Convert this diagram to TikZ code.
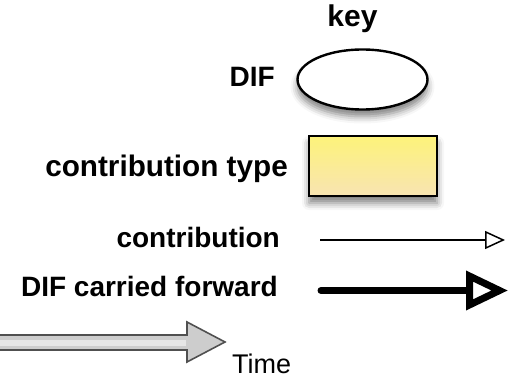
\documentclass[tikz,border=0pt]{standalone}
\usepackage{fontspec}
\setmainfont{Liberation Sans}
\usetikzlibrary{arrows.meta,shapes.geometric,shadows.blur}
\definecolor{typetop}{RGB}{253,243,122}
\definecolor{typebot}{RGB}{248,228,178}
\definecolor{timefill}{RGB}{205,205,205}
\definecolor{timeedge}{RGB}{80,80,80}
\begin{document}
\begin{tikzpicture}[x=1pt,y=-1pt,
  lbl/.style={inner sep=0pt,anchor=base east,font=\fontsize{28}{32}\selectfont\bfseries},
  softshadow/.style={blur shadow={shadow xshift=0pt,shadow yshift=-7pt,shadow blur radius=7pt,shadow opacity=50}},
  difnode/.style={ellipse,draw=black,line width=2.4pt,fill=white,minimum width=130pt,minimum height=60pt,inner sep=0pt,softshadow},
  typenode/.style={rectangle,draw=black,line width=2.4pt,top color=typetop,bottom color=typebot,minimum width=128pt,minimum height=60pt,inner sep=0pt,softshadow},
  contrib/.style={line width=1.5pt,-{Triangle[open,length=20pt,width=18pt]}},
  carried/.style={line width=7pt,line cap=round,-{Triangle[open,length=42pt,width=38pt]}}]
\useasboundingbox (0,0) rectangle (514,379);

% legend title
\node[inner sep=0pt,anchor=base,font=\fontsize{30}{34}\selectfont\bfseries] (key) at (352.5,27) {key};

% DIF symbol
\node[lbl] (difl) at (275,87) {DIF};
\node[difnode] (dif) at (362.5,79.5) {};

% contribution type symbol
\node[lbl,font=\fontsize{29.7}{34}\selectfont\bfseries] (ctl) at (288,177) {contribution type};
\node[typenode] (ct) at (373,166) {};

% contribution connector
\node[lbl] (cl) at (280,248) {contribution};
\coordinate (c1) at (320,240);
\coordinate (c2) at (505,240);
\draw[contrib] (c1) -- (c2);

% DIF carried forward connector
\node[lbl] (dl) at (278,297) {DIF carried forward};
\coordinate (d1) at (321,290.5);
\coordinate (d2) at (508,290.5);
\draw[carried] (d1) -- (d2);

% time axis
\coordinate (t1) at (225,342);
\fill[timefill,draw=timeedge,line width=1.6pt,line join=miter]
  (-5,335) -- (187,335) -- (187,322) -- (t1) -- (187,362) -- (187,350) -- (-5,350) -- cycle;
\fill[white,opacity=0.5] (-5,339.5) rectangle (186,345.5);
\node[inner sep=0pt,anchor=base west,font=\fontsize{27}{32}\selectfont] (time) at (232,373) {Time};
\end{tikzpicture}
\end{document}
